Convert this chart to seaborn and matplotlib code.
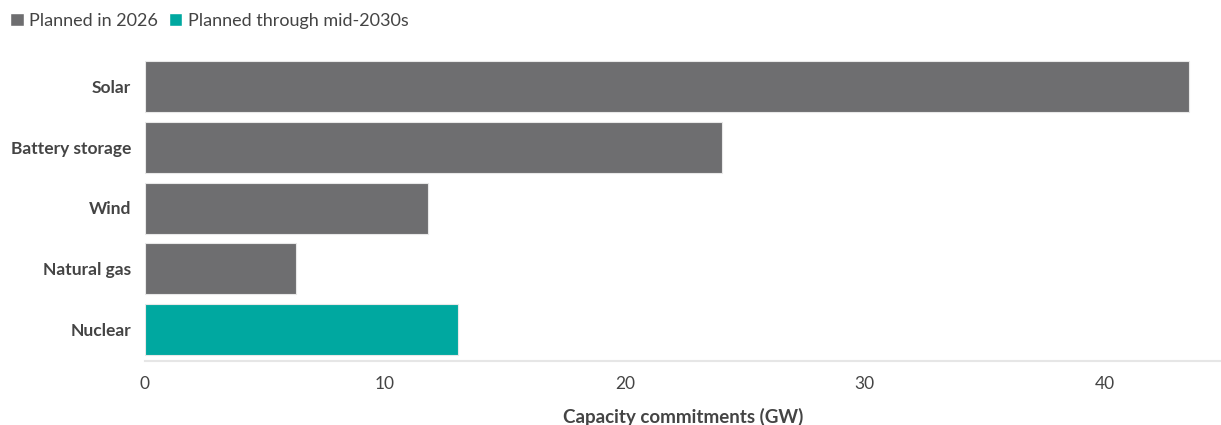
"""
Capacity commitments bar chart
"""

import pandas as pd
import matplotlib.pyplot as plt
import seaborn as sns
from matplotlib.patches import Patch

# Data
categories = ['Solar', 'Battery storage', 'Wind', 'Natural gas', 'Nuclear']
capacity_gw = [43.5, 24.05, 11.8, 6.3, 13.05]
timeframe = ['Planned in 2026', 'Planned in 2026', 'Planned in 2026',
             'Planned in 2026', 'Planned through mid-2030s']

series = ['Planned in 2026', 'Planned through mid-2030s']
colors = ['#6e6e70', '#00a8a0']

df = pd.DataFrame({'category': categories, 'gw': capacity_gw, 'timeframe': timeframe})

sns.set_style('white')
plt.rcParams['font.family'] = ['Lato', 'DejaVu Sans']

fig = plt.figure(figsize=(12.21, 4.25), dpi=100)
ax = fig.add_axes([145 / 1221, 1 - 361 / 425, 1076 / 1221, 306 / 425])

sns.barplot(data=df, y='category', x='gw', hue='timeframe', hue_order=series,
            palette=colors, saturation=1, dodge=False, width=0.84, orient='h',
            edgecolor='#e8e8e8', linewidth=0.8, legend=False, ax=ax)

ax.set_xlim(0, 44.85)
ax.set_ylim(4.52, -0.52)
ax.set_xticks([0, 10, 20, 30, 40])
ax.tick_params(axis='x', length=6, width=1, color='#e0e0e0', labelsize=12.5,
               labelcolor='#444444', pad=5)
ax.tick_params(axis='y', length=0, labelsize=12.5, labelcolor='#444444', pad=10)
for lbl in ax.get_yticklabels():
    lbl.set_fontweight('bold')

for s in ['top', 'right', 'left']:
    ax.spines[s].set_visible(False)
ax.spines['bottom'].set_color('#e6e6e6')
ax.spines['bottom'].set_linewidth(1.5)

ax.set_ylabel('')
ax.set_xlabel('Capacity commitments (GW)', fontsize=13.5, fontweight='bold',
              color='#444444', labelpad=11)

handles = [Patch(facecolor=c, label=s) for c, s in zip(colors, series)]
fig.legend(handles=handles, loc='upper left', bbox_to_anchor=(-0.002, 1.0),
           ncol=2, frameon=False, fontsize=13, handlelength=0.75, handleheight=0.75,
           handletextpad=0.3, columnspacing=0.6, borderaxespad=0.3,
           labelcolor='#444444')

plt.savefig('out.png', dpi=100)
plt.close()
